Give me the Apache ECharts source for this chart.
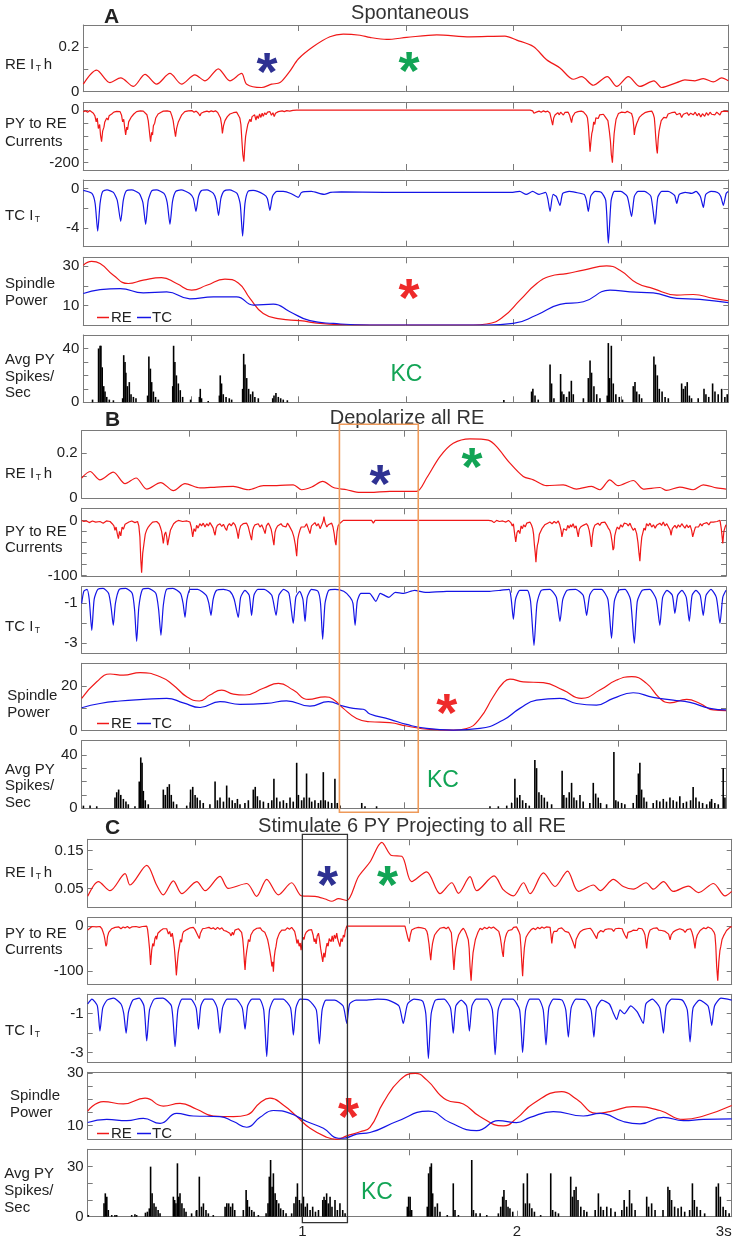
<!DOCTYPE html>
<html><head><meta charset="utf-8">
<script src="https://cdn.jsdelivr.net/npm/echarts@6/dist/echarts.min.js"></script>
<style>html,body{margin:0;padding:0;background:#fff}#c{width:737px;height:1243px}</style>
</head><body><div id="c"></div>
<script>
// ================= DATA (time in s) =================
const xTickVals = [0.5, 1, 1.5, 2, 2.5];
const xLabelVals = [1, 2, 3];

// ---- A: Spontaneous ----
const A_reIth = [[0,0.034],[0.062,0.097],[0.124,0.041],[0.174,0.062],[0.233,0.024],[0.287,0.078],[0.341,0.034],[0.403,0.082],[0.457,0.034],[0.519,0.076],[0.566,0.049],[0.628,0.103],[0.682,0.049],[0.736,0.082],[0.760,0.034],[0.829,0.019],[0.876,0.034],[0.915,0.041],[0.961,0.093],[1.0,0.147],[1.07,0.203],[1.147,0.247],[1.209,0.259],[1.287,0.254],[1.333,0.244],[1.411,0.235],[1.504,0.244],[1.644,0.256],[1.798,0.247],[1.961,0.25],[2.016,0.232],[2.093,0.203],[2.155,0.144],[2.217,0.107],[2.279,0.056],[2.318,0.068],[2.372,0.029],[2.437,0.068],[2.481,0.024],[2.535,0.068],[2.589,0.024],[2.654,0.049],[2.690,0.019],[2.760,0.041],[2.798,0.053],[2.845,0.049],[2.884,0.059],[2.930,0.044],[2.969,0.062],[3.0,0.049]];
const A_pyRe = [[0,-6],[0.01,-3],[0.02,-8],[0.03,-2],[0.039,-4],[0.047,-12],[0.054,-22],[0.06,-45],[0.065,-30],[0.07,-70],[0.076,-55],[0.08,-95],[0.085,-120],[0.09,-80],[0.096,-65],[0.1,-45],[0.105,-50],[0.109,-30],[0.115,-38],[0.12,-22],[0.126,-28],[0.132,-15],[0.138,-20],[0.142,-8],[0.147,-12],[0.155,-5],[0.162,-10],[0.171,-6],[0.178,-20],[0.183,-45],[0.188,-35],[0.193,-70],[0.197,-95],[0.202,-65],[0.206,-75],[0.211,-45],[0.216,-50],[0.222,-28],[0.228,-32],[0.235,-15],[0.242,-18],[0.248,-6],[0.256,-9],[0.265,-3],[0.272,-8],[0.279,-4],[0.288,-10],[0.296,-18],[0.302,-40],[0.306,-70],[0.31,-100],[0.313,-120],[0.318,-85],[0.322,-95],[0.326,-60],[0.332,-50],[0.337,-30],[0.341,-35],[0.348,-15],[0.355,-20],[0.362,-8],[0.372,-4],[0.38,-9],[0.39,-3],[0.398,-10],[0.405,-6],[0.412,-22],[0.418,-40],[0.423,-70],[0.429,-101],[0.434,-70],[0.438,-75],[0.442,-45],[0.448,-35],[0.452,-38],[0.458,-18],[0.465,-14],[0.472,-6],[0.48,-9],[0.488,-3],[0.496,-5],[0.505,-2],[0.515,-8],[0.525,-4],[0.535,-12],[0.543,-22],[0.548,-12],[0.553,-18],[0.558,-8],[0.565,-10],[0.575,-4],[0.585,-7],[0.595,-3],[0.605,-6],[0.615,-3],[0.625,-9],[0.632,-15],[0.638,-30],[0.643,-55],[0.647,-89],[0.652,-60],[0.656,-65],[0.659,-40],[0.665,-45],[0.67,-25],[0.676,-30],[0.682,-15],[0.69,-20],[0.698,-10],[0.706,-14],[0.713,-8],[0.72,-18],[0.728,-30],[0.733,-55],[0.738,-120],[0.742,-170],[0.747,-196],[0.751,-140],[0.755,-100],[0.76,-76],[0.765,-55],[0.77,-60],[0.775,-35],[0.78,-45],[0.785,-25],[0.791,-30],[0.797,-18],[0.803,-38],[0.808,-22],[0.814,-32],[0.82,-15],[0.826,-28],[0.832,-12],[0.837,-24],[0.844,-10],[0.85,-18],[0.857,-8],[0.863,-15],[0.868,-6],[0.875,-20],[0.882,-10],[0.888,-25],[0.894,-12],[0.9,-18],[0.907,-6],[0.915,-10],[0.925,-3],[0.935,-6],[0.946,-2],[0.96,-4],[0.975,-1],[0.992,0],[2.078,0],[2.085,-6],[2.09,-3],[2.096,-12],[2.101,-19],[2.107,-8],[2.113,-12],[2.12,-4],[2.13,-8],[2.14,-3],[2.15,-7],[2.16,-4],[2.17,-11],[2.178,-18],[2.183,-57],[2.188,-30],[2.194,-19],[2.2,-25],[2.207,-10],[2.214,-18],[2.22,-8],[2.227,-14],[2.233,-19],[2.24,-9],[2.248,-15],[2.255,-8],[2.262,-20],[2.267,-35],[2.271,-48],[2.276,-25],[2.282,-18],[2.287,-10],[2.294,-14],[2.3,-6],[2.308,-10],[2.316,-4],[2.326,-7],[2.334,-12],[2.34,-20],[2.345,-30],[2.349,-60],[2.353,-110],[2.357,-158],[2.361,-120],[2.365,-90],[2.369,-76],[2.374,-45],[2.379,-55],[2.384,-30],[2.388,-25],[2.395,-32],[2.402,-18],[2.41,-22],[2.419,-16],[2.426,-24],[2.433,-20],[2.44,-40],[2.447,-82],[2.452,-120],[2.456,-170],[2.461,-200],[2.465,-140],[2.469,-90],[2.473,-63],[2.478,-35],[2.483,-25],[2.489,-13],[2.496,-18],[2.504,-8],[2.512,-6],[2.52,-10],[2.53,-5],[2.54,-9],[2.55,-13],[2.556,-30],[2.56,-60],[2.563,-95],[2.567,-70],[2.571,-75],[2.574,-51],[2.58,-40],[2.586,-28],[2.592,-32],[2.597,-19],[2.604,-22],[2.612,-10],[2.62,-14],[2.628,-6],[2.636,-8],[2.644,-4],[2.651,-15],[2.656,-30],[2.659,-60],[2.663,-110],[2.667,-150],[2.670,-165],[2.674,-110],[2.678,-80],[2.682,-63],[2.688,-40],[2.694,-45],[2.7,-28],[2.705,-25],[2.712,-30],[2.72,-15],[2.728,-20],[2.736,-10],[2.744,-15],[2.752,-8],[2.76,-18],[2.768,-25],[2.775,-12],[2.783,-28],[2.791,-16],[2.8,-22],[2.808,-10],[2.816,-20],[2.825,-12],[2.837,-18],[2.846,-8],[2.855,-22],[2.863,-12],[2.872,-26],[2.88,-14],[2.89,-24],[2.898,-10],[2.907,-20],[2.915,-8],[2.923,-16],[2.93,-10],[2.938,-18],[2.946,-8],[2.954,-14],[2.961,-19],[2.968,-6],[2.976,-12],[2.984,-4],[2.992,-9],[3.0,-6]];
const A_tcIt = [[0,-0.2],[0.04,-0.5],[0.055,-1.5],[0.067,-4.3],[0.078,-1.5],[0.09,-0.3],[0.11,-0.15],[0.14,-0.4],[0.158,-1.2],[0.174,-3.3],[0.186,-1.2],[0.2,-0.25],[0.225,-0.15],[0.26,-0.5],[0.277,-1.4],[0.29,-3.6],[0.302,-1.2],[0.318,-0.25],[0.34,-0.15],[0.375,-0.5],[0.39,-1.4],[0.403,-3.6],[0.415,-1.3],[0.43,-0.3],[0.455,-0.15],[0.495,-0.5],[0.512,-1.0],[0.524,-2.3],[0.536,-0.8],[0.55,-0.2],[0.575,-0.15],[0.605,-0.5],[0.618,-1.2],[0.629,-2.7],[0.64,-1.0],[0.655,-0.25],[0.68,-0.15],[0.715,-0.5],[0.73,-1.6],[0.741,-4.8],[0.752,-1.5],[0.766,-0.3],[0.79,-0.2],[0.84,-0.6],[0.856,-1.0],[0.868,-2.2],[0.88,-0.8],[0.9,-0.3],[0.93,-0.3],[0.965,-0.5],[1.0,-0.9],[1.015,-0.4],[1.06,-0.3],[1.12,-0.6],[1.15,-0.4],[1.2,-0.35],[1.4,-0.4],[1.6,-0.4],[1.8,-0.4],[1.99,-0.4],[2.03,-0.3],[2.06,-0.6],[2.09,-0.3],[2.12,-0.6],[2.15,-0.4],[2.16,-1.0],[2.171,-2.3],[2.185,-0.6],[2.2,-0.8],[2.217,-1.7],[2.23,-0.5],[2.26,-0.3],[2.29,-0.4],[2.33,-0.6],[2.34,-1.2],[2.349,-2.3],[2.36,-0.8],[2.38,-0.3],[2.41,-0.4],[2.43,-1.2],[2.442,-5.5],[2.455,-1.2],[2.47,-0.3],[2.5,-0.3],[2.53,-0.8],[2.55,-2.8],[2.563,-0.8],[2.58,-0.3],[2.61,-0.3],[2.64,-0.8],[2.659,-3.6],[2.672,-0.9],[2.69,-0.3],[2.72,-0.3],[2.75,-0.7],[2.76,-1.5],[2.772,-0.6],[2.8,-0.4],[2.83,-0.5],[2.85,-0.3],[2.87,-0.8],[2.884,-1.9],[2.895,-0.6],[2.92,-0.3],[2.95,-0.4],[2.965,-0.8],[2.977,-1.7],[2.99,-0.5],[3.0,-0.3]];
const A_spRE = [[0,30.5],[0.039,32.5],[0.078,31.4],[0.140,25.4],[0.209,21.2],[0.279,22.9],[0.364,24.2],[0.434,21.2],[0.504,17.8],[0.574,20.3],[0.659,23.4],[0.721,21.5],[0.775,13.6],[0.837,5.9],[0.915,3.1],[1.008,2.2],[1.101,0.8],[1.194,0.2],[1.333,0],[1.814,0],[1.876,0.5],[1.953,4.2],[2.031,12.7],[2.109,21.2],[2.171,24.9],[2.248,26.3],[2.326,28.0],[2.434,30.2],[2.496,28.0],[2.574,21.5],[2.651,18.6],[2.760,15.3],[2.837,15.6],[2.930,13.6],[3.0,12.4]];
const A_spTC = [[0,16.1],[0.078,18.1],[0.171,18.6],[0.279,16.4],[0.388,16.9],[0.496,13.4],[0.605,14.4],[0.713,14.4],[0.791,10.2],[0.884,10.7],[0.961,6.8],[1.054,2.2],[1.163,0.8],[1.333,0],[1.876,0],[2.0,0.8],[2.109,5.1],[2.217,10.5],[2.326,11.9],[2.450,17.8],[2.543,16.9],[2.651,16.4],[2.760,13.6],[2.868,13.1],[3.0,11.4]];
const A_spikes = [[0.043,2],[0.071,40],[0.078,42],[0.082,42],[0.088,26],[0.095,12],[0.101,8],[0.109,4],[0.121,2],[0.140,1.5],[0.183,3],[0.188,35],[0.194,30],[0.198,22],[0.205,12],[0.214,15],[0.222,6],[0.233,4],[0.245,3],[0.299,5],[0.305,34],[0.312,25],[0.318,15],[0.326,8],[0.336,4],[0.349,2],[0.416,12],[0.420,42],[0.426,30],[0.433,20],[0.442,14],[0.451,9],[0.462,4],[0.499,2],[0.540,4],[0.544,10],[0.550,3],[0.581,1],[0.633,5],[0.637,20],[0.643,14],[0.651,6],[0.664,4],[0.679,3],[0.690,2],[0.741,10],[0.746,36],[0.752,28],[0.760,18],[0.769,10],[0.778,6],[0.788,8],[0.798,4],[0.814,3],[0.881,3],[0.887,5],[0.896,7],[0.907,4],[0.918,3],[0.930,2],[0.949,1.5],[1.956,1.7],[2.085,8],[2.091,10],[2.101,5],[2.116,2],[2.171,28],[2.178,14],[2.189,3],[2.220,21],[2.226,8],[2.235,6],[2.248,4],[2.260,8],[2.270,16],[2.279,6],[2.326,3],[2.349,18],[2.357,31],[2.364,22],[2.375,12],[2.388,6],[2.403,3],[2.437,5],[2.442,44],[2.448,18],[2.456,42],[2.465,14],[2.477,6],[2.493,4],[2.508,2],[2.558,12],[2.566,15],[2.574,8],[2.586,6],[2.597,3],[2.654,34],[2.661,28],[2.670,20],[2.679,10],[2.692,8],[2.706,4],[2.721,3],[2.783,14],[2.791,10],[2.800,12],[2.809,15],[2.819,5],[2.829,3],[2.860,3],[2.887,10],[2.896,6],[2.909,4],[2.927,14],[2.938,8],[2.953,6],[2.969,10],[2.984,4],[2.995,6]];

// ---- B: Depolarize all RE ----
const B_reIth = [[0,0.090],[0.039,0.119],[0.085,0.082],[0.147,0.116],[0.202,0.065],[0.253,0.090],[0.303,0.041],[0.368,0.070],[0.427,0.034],[0.481,0.065],[0.551,0.046],[0.628,0.050],[0.706,0.053],[0.776,0.038],[0.846,0.056],[0.908,0.056],[0.985,0.060],[1.024,0.038],[1.071,0.050],[1.122,0.075],[1.172,0.048],[1.234,0.038],[1.296,0.026],[1.342,0.026],[1.435,0.031],[1.559,0.031],[1.606,0.090],[1.668,0.185],[1.730,0.244],[1.808,0.264],[1.893,0.258],[1.932,0.229],[1.994,0.156],[2.056,0.097],[2.103,0.082],[2.165,0.056],[2.242,0.060],[2.304,0.041],[2.374,0.053],[2.413,0.038],[2.459,0.082],[2.498,0.056],[2.568,0.079],[2.615,0.041],[2.692,0.048],[2.723,0.035],[2.785,0.050],[2.847,0.038],[2.894,0.060],[2.956,0.046],[3.0,0.041]];
const B_pyRe = [[0,0],[0.01,-2],[0.023,-1],[0.035,-4],[0.05,-1],[0.065,-3],[0.085,-2],[0.1,-5],[0.115,-1],[0.132,-2],[0.142,-6],[0.15,-10],[0.155,-18],[0.16,-12],[0.166,-25],[0.171,-33],[0.176,-20],[0.182,-28],[0.188,-12],[0.194,-16],[0.202,-7],[0.21,-10],[0.22,-3],[0.233,-1],[0.248,-4],[0.26,-2],[0.266,-10],[0.271,-30],[0.275,-70],[0.279,-95],[0.284,-60],[0.29,-42],[0.296,-25],[0.302,-18],[0.31,-12],[0.318,-8],[0.33,-3],[0.349,-2],[0.36,-6],[0.366,-12],[0.372,-20],[0.376,-30],[0.38,-42],[0.386,-25],[0.391,-21],[0.396,-30],[0.4,-45],[0.403,-48],[0.408,-28],[0.413,-18],[0.419,-15],[0.428,-6],[0.44,-2],[0.45,0],[0.47,-2],[0.49,-1],[0.504,-3],[0.51,-12],[0.517,-30],[0.523,-15],[0.53,-20],[0.535,-9],[0.542,-14],[0.55,-6],[0.558,-10],[0.566,-5],[0.574,-12],[0.582,-6],[0.59,-10],[0.597,-4],[0.605,-9],[0.612,-14],[0.617,-22],[0.621,-27],[0.626,-14],[0.632,-9],[0.638,-12],[0.644,-6],[0.652,-11],[0.66,-7],[0.668,-14],[0.675,-18],[0.68,-10],[0.688,-6],[0.696,-10],[0.706,-4],[0.714,-8],[0.72,-15],[0.725,-24],[0.729,-33],[0.734,-18],[0.74,-10],[0.745,-12],[0.752,-6],[0.76,-9],[0.768,-5],[0.776,-12],[0.782,-22],[0.787,-30],[0.791,-36],[0.796,-18],[0.801,-12],[0.807,-8],[0.815,-11],[0.822,-6],[0.83,-12],[0.838,-8],[0.846,-15],[0.854,-24],[0.86,-10],[0.869,-5],[0.876,-10],[0.882,-16],[0.888,-28],[0.892,-38],[0.895,-45],[0.9,-22],[0.905,-15],[0.912,-10],[0.92,-13],[0.928,-6],[0.935,-10],[0.943,-8],[0.951,-12],[0.958,-5],[0.965,-9],[0.972,-14],[0.98,-20],[0.988,-30],[0.995,-45],[1.001,-65],[1.006,-35],[1.011,-25],[1.016,-18],[1.022,-12],[1.03,-9],[1.038,-12],[1.047,-6],[1.055,-15],[1.063,-24],[1.07,-10],[1.078,-8],[1.086,-4],[1.094,-10],[1.102,-6],[1.11,-15],[1.118,-8],[1.124,-2],[1.128,7],[1.133,-4],[1.141,-12],[1.148,-8],[1.156,-10],[1.164,-5],[1.17,-12],[1.176,-25],[1.18,-38],[1.184,-45],[1.189,-20],[1.194,-10],[1.2,-6],[1.209,-3],[1.218,0],[1.35,0],[1.358,-5],[1.366,0],[1.894,0],[1.901,-3],[1.91,-1],[1.92,-4],[1.932,0],[1.945,-2],[1.96,-1],[1.975,-3],[1.987,0],[1.998,-4],[2.005,-10],[2.01,-6],[2.016,-25],[2.021,-39],[2.027,-22],[2.033,-18],[2.04,-24],[2.046,-10],[2.052,-15],[2.058,-8],[2.065,-12],[2.072,-5],[2.08,-8],[2.087,-3],[2.094,-8],[2.1,-15],[2.104,-25],[2.108,-45],[2.112,-60],[2.115,-76],[2.119,-55],[2.122,-45],[2.126,-39],[2.131,-25],[2.137,-28],[2.143,-15],[2.149,-18],[2.156,-8],[2.163,-10],[2.17,-5],[2.18,-3],[2.19,-6],[2.2,-2],[2.21,-5],[2.219,-1],[2.226,-8],[2.232,-18],[2.236,-30],[2.239,-28],[2.244,-15],[2.25,-12],[2.257,-18],[2.263,-9],[2.27,-14],[2.276,-8],[2.281,-12],[2.288,-6],[2.295,-14],[2.302,-10],[2.308,-22],[2.312,-30],[2.317,-16],[2.323,-12],[2.329,-15],[2.335,-9],[2.342,-12],[2.35,-6],[2.357,-10],[2.363,-18],[2.368,-30],[2.371,-42],[2.374,-48],[2.378,-28],[2.383,-15],[2.389,-9],[2.396,-12],[2.404,-5],[2.412,-9],[2.42,-4],[2.428,-7],[2.436,-3],[2.444,-8],[2.452,-14],[2.459,-18],[2.464,-25],[2.47,-40],[2.474,-54],[2.478,-50],[2.482,-28],[2.488,-18],[2.494,-12],[2.502,-16],[2.51,-8],[2.518,-12],[2.526,-5],[2.537,-6],[2.545,-10],[2.553,-5],[2.56,-12],[2.568,-18],[2.576,-14],[2.584,-24],[2.59,-40],[2.595,-60],[2.599,-74],[2.603,-50],[2.608,-30],[2.612,-24],[2.618,-14],[2.624,-18],[2.63,-6],[2.638,-10],[2.646,-5],[2.654,-12],[2.662,-8],[2.67,-14],[2.677,-9],[2.685,-12],[2.692,-5],[2.7,-9],[2.708,-3],[2.716,-10],[2.724,-6],[2.732,-12],[2.74,-18],[2.744,-27],[2.75,-15],[2.756,-12],[2.762,-9],[2.77,-14],[2.778,-8],[2.786,-12],[2.794,-6],[2.801,-10],[2.809,-14],[2.817,-8],[2.825,-13],[2.833,-9],[2.84,-18],[2.845,-30],[2.848,-33],[2.853,-18],[2.858,-12],[2.864,-9],[2.872,-12],[2.88,-6],[2.888,-10],[2.895,-6],[2.903,-9],[2.911,-4],[2.92,-8],[2.928,-3],[2.935,-6],[2.941,-3],[2.95,-6],[2.958,-2],[2.965,-5],[2.972,0],[2.978,-15],[2.982,-30],[2.985,-42],[2.99,-20],[2.996,-12],[3.0,-8]];
const B_tcIt = [[0,-1.0],[0.01,-0.4],[0.025,-0.3],[0.035,-0.8],[0.047,-2.35],[0.058,-0.8],[0.075,-0.3],[0.1,-0.25],[0.125,-0.5],[0.137,-1.2],[0.147,-2.1],[0.157,-1.0],[0.175,-0.3],[0.205,-0.25],[0.235,-0.5],[0.246,-1.3],[0.256,-2.9],[0.266,-1.2],[0.283,-0.3],[0.31,-0.25],[0.345,-0.5],[0.358,-1.3],[0.369,-2.6],[0.38,-1.1],[0.395,-0.3],[0.425,-0.25],[0.46,-0.5],[0.472,-1.0],[0.481,-1.7],[0.49,-0.8],[0.505,-0.3],[0.54,-0.3],[0.58,-0.6],[0.592,-1.0],[0.602,-1.6],[0.612,-0.8],[0.628,-0.35],[0.66,-0.3],[0.69,-0.4],[0.71,-0.8],[0.729,-1.7],[0.74,-0.7],[0.76,-0.35],[0.78,-0.6],[0.791,-1.6],[0.802,-0.6],[0.82,-0.3],[0.85,-0.3],[0.885,-0.6],[0.905,-1.6],[0.918,-0.6],[0.94,-0.3],[0.965,-0.5],[0.985,-2.0],[0.997,-0.7],[1.015,-0.4],[1.03,-0.8],[1.04,-1.9],[1.05,-0.7],[1.07,-0.3],[1.1,-0.4],[1.112,-1.0],[1.122,-2.8],[1.133,-1.0],[1.15,-0.35],[1.18,-0.3],[1.22,-0.4],[1.25,-0.7],[1.263,-1.0],[1.273,-2.1],[1.283,-0.9],[1.3,-0.5],[1.34,-0.5],[1.37,-0.9],[1.39,-0.5],[1.43,-0.7],[1.46,-0.45],[1.5,-0.5],[1.55,-0.35],[1.6,-0.45],[1.7,-0.4],[1.8,-0.4],[1.9,-0.4],[1.95,-0.35],[1.99,-0.3],[2.0,-0.8],[2.01,-1.8],[2.02,-0.8],[2.04,-0.35],[2.075,-0.35],[2.09,-0.9],[2.106,-3.1],[2.12,-1.0],[2.14,-0.35],[2.18,-0.3],[2.21,-0.7],[2.227,-1.9],[2.24,-0.8],[2.26,-0.35],[2.3,-0.3],[2.335,-0.6],[2.351,-1.6],[2.365,-0.6],[2.385,-0.3],[2.42,-0.3],[2.45,-0.8],[2.467,-2.75],[2.48,-0.9],[2.5,-0.35],[2.53,-0.3],[2.555,-0.8],[2.573,-3.0],[2.587,-0.9],[2.61,-0.35],[2.645,-0.3],[2.675,-0.8],[2.692,-2.1],[2.705,-0.7],[2.725,-0.35],[2.75,-0.6],[2.762,-1.5],[2.775,-0.6],[2.795,-0.35],[2.815,-0.7],[2.829,-1.9],[2.842,-0.6],[2.86,-0.35],[2.88,-0.6],[2.894,-1.6],[2.907,-0.6],[2.93,-0.3],[2.955,-0.7],[2.972,-2.0],[2.985,-0.7],[3.0,-0.35]];
const B_spRE = [[0,14.5],[0.070,21.9],[0.132,25.4],[0.194,24.9],[0.272,26.0],[0.365,24.2],[0.427,20.4],[0.489,15.2],[0.548,13.3],[0.597,16.0],[0.652,18.2],[0.706,16.4],[0.760,16.0],[0.846,19.0],[0.916,21.2],[0.985,18.2],[1.055,14.0],[1.133,15.2],[1.172,14.0],[1.218,10.0],[1.280,5.5],[1.342,4.0],[1.435,3.6],[1.513,2.1],[1.621,0.6],[1.730,0.3],[1.792,1.0],[1.854,5.5],[1.916,15.2],[1.963,21.5],[1.994,23.1],[2.056,21.9],[2.149,21.5],[2.242,18.2],[2.327,14.5],[2.413,18.2],[2.491,22.7],[2.561,24.2],[2.630,21.2],[2.692,14.5],[2.739,12.5],[2.817,14.0],[2.879,12.2],[2.941,9.3],[3.0,9.0]];
const B_spTC = [[0,10.3],[0.085,12.2],[0.178,13.3],[0.287,14.0],[0.396,14.5],[0.473,12.5],[0.551,10.4],[0.644,13.0],[0.737,11.8],[0.861,12.2],[0.954,13.4],[1.063,11.0],[1.148,13.0],[1.218,11.0],[1.265,10.0],[1.311,9.6],[1.342,7.5],[1.435,5.1],[1.513,2.8],[1.606,1.0],[1.730,0.3],[1.854,1.0],[1.963,4.8],[2.040,10.0],[2.118,13.7],[2.227,14.5],[2.304,12.2],[2.397,11.5],[2.475,14.5],[2.568,17.0],[2.661,14.9],[2.754,13.7],[2.832,12.7],[2.925,10.0],[3.0,9.3]];
const B_spikes = [[0.008,2],[0.039,2],[0.070,1.5],[0.155,8],[0.163,12],[0.172,14],[0.182,10],[0.194,7],[0.206,5],[0.217,3],[0.248,1.5],[0.268,20],[0.275,38],[0.281,34],[0.287,13],[0.296,6],[0.310,3],[0.380,14],[0.389,10],[0.399,16],[0.408,18],[0.417,10],[0.427,5],[0.442,3],[0.489,2],[0.507,14],[0.517,16],[0.528,10],[0.538,8],[0.551,6],[0.566,4],[0.597,3],[0.621,20],[0.632,6],[0.644,8],[0.660,5],[0.675,17],[0.687,8],[0.701,6],[0.714,4],[0.725,7],[0.737,3],[0.760,4],[0.776,6],[0.799,14],[0.808,16],[0.818,9],[0.830,6],[0.846,5],[0.869,4],[0.885,6],[0.895,22],[0.908,8],[0.923,5],[0.939,6],[0.954,4],[0.970,8],[0.985,5],[1.001,34],[1.009,10],[1.024,6],[1.035,8],[1.047,26],[1.060,8],[1.071,5],[1.086,6],[1.102,4],[1.113,6],[1.125,27],[1.134,6],[1.148,5],[1.164,4],[1.179,22],[1.190,4],[1.203,2],[1.304,4],[1.319,1.5],[1.373,1.5],[1.901,1.5],[1.940,1.5],[1.979,2],[2.002,4],[2.017,22],[2.028,8],[2.040,10],[2.053,6],[2.068,4],[2.084,2],[2.110,36],[2.118,30],[2.129,12],[2.141,10],[2.154,8],[2.168,5],[2.188,3],[2.237,28],[2.245,10],[2.257,8],[2.270,12],[2.281,19],[2.292,8],[2.304,6],[2.320,10],[2.335,5],[2.366,4],[2.382,19],[2.393,11],[2.405,8],[2.416,4],[2.444,3],[2.478,42],[2.487,6],[2.498,5],[2.514,4],[2.529,3],[2.568,4],[2.584,10],[2.592,26],[2.599,34],[2.607,14],[2.618,8],[2.630,5],[2.661,4],[2.677,6],[2.692,5],[2.708,7],[2.723,5],[2.739,8],[2.754,6],[2.770,5],[2.785,9],[2.801,4],[2.816,5],[2.835,6],[2.847,16],[2.860,8],[2.875,5],[2.891,4],[2.910,3],[2.925,5],[2.933,7],[2.948,4],[2.964,3],[2.987,30],[2.995,8]];

// ---- C: Stimulate 6 PY ----
const C_reIth = [[0,0.029],[0.050,0.068],[0.104,0.044],[0.174,0.089],[0.197,0.059],[0.275,0.111],[0.321,0.059],[0.352,0.033],[0.399,0.070],[0.438,0.036],[0.508,0.068],[0.547,0.044],[0.616,0.082],[0.655,0.050],[0.741,0.063],[0.787,0.029],[0.834,0.074],[0.888,0.033],[0.950,0.065],[0.997,0.030],[1.059,0.029],[1.106,0.022],[1.137,0.016],[1.168,0.023],[1.207,0.018],[1.261,0.081],[1.315,0.120],[1.370,0.172],[1.416,0.137],[1.463,0.135],[1.509,0.068],[1.579,0.094],[1.641,0.036],[1.696,0.065],[1.727,0.037],[1.781,0.081],[1.812,0.044],[1.893,0.083],[1.937,0.046],[1.983,0.030],[2.030,0.065],[2.061,0.036],[2.123,0.091],[2.177,0.055],[2.235,0.096],[2.286,0.042],[2.356,0.059],[2.387,0.044],[2.449,0.074],[2.495,0.055],[2.542,0.048],[2.601,0.065],[2.635,0.048],[2.682,0.068],[2.728,0.042],[2.798,0.056],[2.845,0.039],[2.915,0.063],[2.969,0.030],[3.0,0.042]];
const C_pyRe = [[0,-9],[0.01,-5],[0.02,-1],[0.026,0],[0.04,-2],[0.057,-1],[0.066,-6],[0.072,-14],[0.076,-20],[0.08,-30],[0.085,-45],[0.089,-40],[0.092,-24],[0.098,-14],[0.105,-10],[0.112,-6],[0.12,-8],[0.128,-3],[0.135,-5],[0.145,-2],[0.155,-6],[0.165,-2],[0.175,-4],[0.185,-1],[0.195,-5],[0.205,-2],[0.213,-3],[0.225,-1],[0.24,-3],[0.255,-1],[0.275,0],[0.279,-8],[0.283,-25],[0.288,-50],[0.293,-87],[0.298,-55],[0.303,-39],[0.308,-45],[0.313,-28],[0.318,-22],[0.321,-30],[0.327,-16],[0.333,-20],[0.34,-10],[0.346,-12],[0.352,-6],[0.36,-10],[0.368,-6],[0.376,-18],[0.382,-12],[0.388,-24],[0.394,-16],[0.399,-31],[0.404,-50],[0.409,-80],[0.413,-110],[0.418,-80],[0.422,-60],[0.427,-46],[0.432,-30],[0.437,-36],[0.442,-18],[0.446,-13],[0.454,-16],[0.462,-8],[0.47,-10],[0.478,-4],[0.484,-6],[0.492,-3],[0.5,-8],[0.508,-16],[0.514,-22],[0.52,-28],[0.525,-16],[0.53,-12],[0.535,-6],[0.539,-10],[0.548,-5],[0.556,-8],[0.565,-3],[0.575,-6],[0.585,-4],[0.595,-8],[0.605,-3],[0.615,-7],[0.625,-4],[0.635,-10],[0.642,-6],[0.648,-12],[0.655,-8],[0.662,-16],[0.668,-22],[0.674,-14],[0.679,-20],[0.686,-9],[0.694,-12],[0.702,-6],[0.71,-9],[0.717,-14],[0.722,-28],[0.726,-50],[0.73,-80],[0.733,-98],[0.737,-70],[0.741,-55],[0.744,-46],[0.749,-30],[0.755,-35],[0.76,-20],[0.765,-22],[0.772,-10],[0.78,-13],[0.788,-5],[0.796,-8],[0.804,-4],[0.812,-10],[0.818,-6],[0.825,-14],[0.832,-22],[0.838,-30],[0.842,-39],[0.848,-55],[0.853,-70],[0.858,-90],[0.862,-80],[0.865,-102],[0.869,-70],[0.873,-55],[0.877,-46],[0.882,-30],[0.888,-22],[0.894,-15],[0.899,-12],[0.904,-9],[0.912,-6],[0.92,-9],[0.93,-4],[0.94,-7],[0.95,-3],[0.958,-5],[0.964,-12],[0.97,-25],[0.975,-39],[0.98,-30],[0.985,-45],[0.99,-38],[0.994,-54],[0.998,-40],[1.003,-25],[1.008,-30],[1.012,-20],[1.018,-14],[1.024,-18],[1.03,-9],[1.036,-12],[1.043,-8],[1.05,-20],[1.055,-35],[1.059,-28],[1.064,-40],[1.069,-22],[1.075,-16],[1.08,-30],[1.085,-50],[1.09,-65],[1.095,-80],[1.1,-60],[1.105,-70],[1.11,-50],[1.115,-38],[1.12,-45],[1.125,-28],[1.129,-24],[1.134,-35],[1.139,-22],[1.144,-35],[1.149,-20],[1.155,-28],[1.16,-16],[1.165,-30],[1.17,-38],[1.175,-46],[1.18,-28],[1.186,-35],[1.191,-20],[1.196,-25],[1.2,-10],[1.204,-5],[1.207,0],[1.478,0],[1.482,-8],[1.486,-16],[1.492,-28],[1.498,-35],[1.503,-20],[1.509,-9],[1.516,-12],[1.524,-5],[1.532,-8],[1.54,-3],[1.548,-1],[1.556,-4],[1.564,-2],[1.572,-6],[1.58,-12],[1.584,-20],[1.59,-40],[1.594,-60],[1.598,-76],[1.602,-55],[1.606,-40],[1.61,-31],[1.616,-20],[1.622,-24],[1.628,-12],[1.634,-14],[1.641,-5],[1.65,-8],[1.66,-3],[1.67,-6],[1.68,-2],[1.688,-4],[1.694,-15],[1.698,-40],[1.702,-70],[1.706,-98],[1.71,-70],[1.714,-50],[1.718,-40],[1.722,-31],[1.728,-20],[1.734,-22],[1.74,-10],[1.745,-12],[1.75,-5],[1.757,-10],[1.764,-18],[1.769,-25],[1.773,-31],[1.777,-50],[1.781,-90],[1.786,-122],[1.79,-90],[1.795,-60],[1.8,-46],[1.806,-30],[1.812,-22],[1.818,-14],[1.823,-10],[1.828,-5],[1.838,-8],[1.848,-3],[1.86,-6],[1.87,-2],[1.88,-5],[1.89,-2],[1.9,-6],[1.905,-4],[1.915,-12],[1.922,-25],[1.928,-45],[1.932,-60],[1.936,-69],[1.94,-40],[1.946,-25],[1.952,-16],[1.96,-10],[1.968,-6],[1.976,-8],[1.984,-3],[1.992,-5],[1.998,-2],[2.004,-8],[2.01,-14],[2.014,-20],[2.018,-45],[2.022,-80],[2.026,-112],[2.03,-75],[2.034,-50],[2.037,-39],[2.042,-25],[2.048,-28],[2.054,-15],[2.06,-18],[2.066,-8],[2.072,-10],[2.076,-5],[2.086,-8],[2.096,-3],[2.106,-6],[2.116,-2],[2.126,-5],[2.136,-2],[2.145,-4],[2.154,-3],[2.158,-20],[2.162,-39],[2.167,-18],[2.172,-12],[2.177,-9],[2.185,-12],[2.193,-6],[2.2,-9],[2.208,-4],[2.216,-8],[2.224,-12],[2.232,-8],[2.24,-14],[2.247,-20],[2.254,-28],[2.26,-35],[2.265,-42],[2.27,-50],[2.275,-30],[2.28,-25],[2.287,-18],[2.294,-13],[2.302,-16],[2.31,-8],[2.318,-11],[2.326,-6],[2.334,-9],[2.342,-5],[2.35,-10],[2.357,-16],[2.364,-22],[2.371,-28],[2.377,-16],[2.384,-20],[2.39,-10],[2.396,-14],[2.402,-13],[2.41,-8],[2.418,-12],[2.426,-6],[2.434,-10],[2.442,-7],[2.45,-12],[2.458,-6],[2.466,-10],[2.474,-5],[2.482,-9],[2.49,-6],[2.495,-13],[2.502,-20],[2.507,-16],[2.511,-28],[2.517,-14],[2.524,-10],[2.532,-12],[2.542,-9],[2.55,-6],[2.558,-10],[2.566,-5],[2.574,-9],[2.582,-6],[2.59,-12],[2.596,-20],[2.6,-35],[2.604,-50],[2.608,-30],[2.614,-16],[2.62,-9],[2.628,-12],[2.636,-5],[2.644,-8],[2.652,-4],[2.66,-9],[2.666,-5],[2.674,-10],[2.682,-6],[2.69,-12],[2.698,-8],[2.706,-18],[2.713,-31],[2.718,-20],[2.723,-24],[2.728,-13],[2.735,-16],[2.742,-9],[2.75,-12],[2.758,-6],[2.766,-10],[2.775,-9],[2.783,-14],[2.792,-8],[2.8,-12],[2.808,-6],[2.815,-14],[2.821,-25],[2.826,-40],[2.829,-50],[2.834,-30],[2.84,-20],[2.845,-16],[2.853,-10],[2.861,-8],[2.87,-4],[2.88,-6],[2.89,-2],[2.899,-1],[2.906,-6],[2.912,-10],[2.918,-14],[2.922,-20],[2.926,-45],[2.93,-90],[2.935,-122],[2.94,-80],[2.945,-55],[2.949,-46],[2.955,-30],[2.962,-22],[2.969,-16],[2.976,-10],[2.984,-6],[2.992,-3],[3.0,-1]];
const C_tcIt = [[0,-0.5],[0.02,-0.25],[0.045,-0.6],[0.057,-1.9],[0.07,-0.7],[0.09,-0.3],[0.12,-0.2],[0.155,-0.5],[0.168,-1.0],[0.179,-2.0],[0.19,-0.9],[0.21,-0.3],[0.24,-0.2],[0.262,-0.6],[0.275,-2.4],[0.288,-0.8],[0.31,-0.25],[0.35,-0.2],[0.39,-0.6],[0.407,-2.7],[0.42,-0.8],[0.44,-0.25],[0.48,-0.25],[0.505,-0.7],[0.516,-1.8],[0.527,-0.6],[0.545,-0.25],[0.58,-0.25],[0.603,-0.7],[0.616,-2.0],[0.628,-0.7],[0.65,-0.25],[0.69,-0.25],[0.72,-0.7],[0.733,-1.8],[0.745,-0.6],[0.765,-0.25],[0.8,-0.25],[0.82,-0.8],[0.834,-3.2],[0.847,-0.8],[0.87,-0.25],[0.91,-0.25],[0.945,-0.7],[0.958,-2.1],[0.97,-0.7],[0.99,-0.25],[1.03,-0.3],[1.065,-0.8],[1.079,-2.55],[1.092,-0.8],[1.11,-0.3],[1.15,-0.3],[1.19,-0.6],[1.207,-1.5],[1.22,-0.5],[1.25,-0.3],[1.3,-0.3],[1.35,-0.25],[1.4,-0.3],[1.45,-0.6],[1.47,-1.5],[1.49,-0.5],[1.52,-0.25],[1.56,-0.35],[1.575,-1.0],[1.587,-3.3],[1.6,-1.0],[1.62,-0.3],[1.66,-0.25],[1.69,-0.7],[1.703,-2.0],[1.715,-0.6],[1.74,-0.3],[1.765,-0.6],[1.778,-1.9],[1.79,-0.6],[1.81,-0.25],[1.86,-0.25],[1.885,-0.8],[1.898,-3.1],[1.912,-0.8],[1.935,-0.25],[1.98,-0.25],[2.012,-0.8],[2.026,-3.0],[2.04,-0.8],[2.06,-0.25],[2.1,-0.25],[2.122,-0.8],[2.135,-2.6],[2.148,-0.7],[2.17,-0.25],[2.21,-0.3],[2.227,-0.8],[2.239,-2.2],[2.252,-0.7],[2.275,-0.25],[2.32,-0.3],[2.345,-0.8],[2.358,-2.2],[2.37,-0.7],[2.395,-0.3],[2.43,-0.5],[2.45,-1.0],[2.464,-1.3],[2.48,-0.8],[2.5,-1.0],[2.53,-0.6],[2.56,-0.9],[2.588,-1.5],[2.6,-0.5],[2.63,-0.25],[2.665,-0.7],[2.682,-2.0],[2.695,-0.6],[2.72,-0.25],[2.77,-0.3],[2.793,-0.8],[2.806,-2.45],[2.82,-0.7],[2.85,-0.3],[2.89,-0.6],[2.907,-1.6],[2.92,-0.6],[2.95,-0.2],[3.0,-0.3]];
const C_spRE = [[0,15.6],[0.073,19.2],[0.166,18.3],[0.267,20.5],[0.352,17.5],[0.430,18.5],[0.508,16.3],[0.585,13.7],[0.679,13.5],[0.741,14.1],[0.803,18.8],[0.849,20.5],[0.911,17.9],[0.974,13.5],[1.036,9.0],[1.113,5.6],[1.160,4.8],[1.207,6.1],[1.269,7.7],[1.315,9.4],[1.377,18.8],[1.455,27.5],[1.525,30.0],[1.579,27.5],[1.672,19.8],[1.750,18.3],[1.827,13.5],[1.936,9.9],[1.998,12.8],[2.076,18.5],[2.208,23.0],[2.278,20.1],[2.371,14.7],[2.433,15.4],[2.542,17.3],[2.666,15.8],[2.775,12.4],[2.868,13.7],[3.0,17.7]];
const C_spTC = [[0,11.2],[0.089,12.4],[0.182,11.9],[0.259,12.8],[0.337,10.9],[0.415,14.7],[0.492,13.7],[0.616,13.5],[0.679,11.6],[0.741,9.4],[0.803,13.2],[0.865,15.8],[0.943,14.7],[1.020,11.6],[1.098,9.0],[1.168,5.2],[1.191,5.2],[1.253,6.8],[1.315,7.4],[1.439,11.6],[1.587,15.6],[1.688,11.2],[1.812,8.1],[1.913,11.9],[1.998,11.2],[2.061,13.2],[2.169,15.4],[2.309,13.7],[2.387,14.7],[2.495,11.6],[2.573,10.7],[2.682,13.2],[2.775,11.9],[2.868,12.4],[3.0,12.6]];
const C_spikes = [[0.003,1],[0.076,8],[0.082,14],[0.089,12],[0.096,4],[0.112,1],[0.127,1],[0.135,1],[0.205,1],[0.220,1.5],[0.228,1],[0.269,2.4],[0.278,3],[0.287,5],[0.293,30],[0.300,14],[0.309,8],[0.318,6],[0.328,4],[0.337,2],[0.399,12],[0.405,10],[0.411,8],[0.418,32],[0.424,12],[0.430,14],[0.439,8],[0.449,5],[0.458,3],[0.484,2],[0.508,4],[0.520,24],[0.530,6],[0.539,8],[0.551,4],[0.562,2],[0.585,1],[0.640,6],[0.648,8],[0.657,8],[0.666,6],[0.675,8],[0.685,4],[0.725,4],[0.738,16],[0.744,10],[0.753,6],[0.764,4],[0.775,3],[0.795,1],[0.831,2],[0.840,8],[0.846,24],[0.852,34],[0.859,18],[0.865,26],[0.873,14],[0.880,10],[0.890,8],[0.899,5],[0.911,4],[0.924,2],[0.950,2],[0.961,8],[0.970,12],[0.977,20],[0.986,10],[0.995,8],[1.005,12],[1.014,6],[1.023,8],[1.036,4],[1.048,6],[1.061,3],[1.075,4],[1.095,10],[1.101,12],[1.107,10],[1.113,14],[1.121,8],[1.129,12],[1.138,6],[1.152,10],[1.163,4],[1.175,8],[1.188,4],[1.199,2],[1.489,6],[1.495,12],[1.502,12],[1.509,4],[1.582,6],[1.588,26],[1.595,30],[1.601,32],[1.607,14],[1.618,6],[1.629,8],[1.641,3],[1.675,1],[1.703,20],[1.711,4],[1.727,1],[1.789,34],[1.797,4],[1.809,2],[1.828,2],[1.859,1],[1.913,2],[1.924,6],[1.933,12],[1.939,16],[1.949,10],[1.958,6],[1.967,5],[1.980,3],[2.030,20],[2.039,8],[2.048,26],[2.058,8],[2.069,5],[2.081,3],[2.110,1],[2.157,26],[2.166,4],[2.179,3],[2.193,2],[2.250,24],[2.258,12],[2.266,16],[2.275,18],[2.284,10],[2.297,6],[2.312,4],[2.325,3],[2.364,4],[2.379,14],[2.390,6],[2.402,4],[2.418,6],[2.437,5],[2.457,3],[2.488,4],[2.499,10],[2.511,6],[2.524,16],[2.534,8],[2.550,4],[2.604,12],[2.613,6],[2.627,8],[2.643,4],[2.680,4],[2.703,18],[2.711,16],[2.720,10],[2.734,6],[2.750,5],[2.765,6],[2.781,3],[2.804,4],[2.817,20],[2.826,10],[2.838,6],[2.854,4],[2.874,2],[2.928,18],[2.938,20],[2.947,12],[2.960,6],[2.972,4],[2.988,2]];

// y-axis ticks / labels per panel
const yTicks = {
  A1:[0,0.1,0.2], A2:[-200,-150,-100,-50,0], A3:[-4,-2,0], A4:[10,20,30], A5:[0,10,20,30,40],
  B1:[0,0.1,0.2], B2:[-100,-80,-60,-40,-20,0], B3:[-3,-2,-1], B4:[0,10,20], B5:[0,10,20,30,40],
  C1:[0.05,0.1,0.15], C2:[-100,-50,0], C3:[-3,-2,-1], C4:[10,15,20,25,30], C5:[0,10,20,30]
};
const yLabels = {
  A1:[0,0.2], A2:[-200,0], A3:[-4,0], A4:[10,30], A5:[0,40],
  B1:[0,0.2], B2:[-100,0], B3:[-3,-1], B4:[0,20], B5:[0,40],
  C1:[0.05,0.15], C2:[-100,0], C3:[-3,-1], C4:[10,30], C5:[0,30]
};

// ================= LAYOUT =================
const FONT = '"Liberation Sans", Arial, Helvetica, sans-serif';
const FRAME = '#7a7a7a';
const RED = '#f01818', BLUE = '#1414e6';
const sections = [
  {left:83.3, width:645.0},
  {left:81.7, width:644.3},
  {left:87.7, width:644.0}
];
const panels = [
  {key:'A1', sec:0, top:25,    bot:91.7,  min:0,     max:0.3,  lines:[[A_reIth,RED,0.3]]},
  {key:'A2', sec:0, top:102.7, bot:170,   min:-228,  max:28,   lines:[[A_pyRe,RED,0]]},
  {key:'A3', sec:0, top:180,   bot:246.7, min:-5.85, max:0.85, lines:[[A_tcIt,BLUE,0.2]]},
  {key:'A4', sec:0, top:257.3, bot:325,   min:0,     max:34.6, lines:[[A_spRE,RED,0.5],[A_spTC,BLUE,0.5]]},
  {key:'A5', sec:0, top:335,   bot:402.3, min:0,     max:50,   bars:A_spikes},
  {key:'B1', sec:1, top:430.7, bot:498.3, min:0,     max:0.3,  lines:[[B_reIth,RED,0.3]]},
  {key:'B2', sec:1, top:508.3, bot:576,   min:-101,  max:22,   lines:[[B_pyRe,RED,0]]},
  {key:'B3', sec:1, top:586.7, bot:653.3, min:-3.5,  max:-0.17,lines:[[B_tcIt,BLUE,0.2]]},
  {key:'B4', sec:1, top:663.3, bot:730.7, min:0,     max:30.2, lines:[[B_spRE,RED,0.5],[B_spTC,BLUE,0.5]]},
  {key:'B5', sec:1, top:740.7, bot:808.3, min:0,     max:50.5, bars:B_spikes},
  {key:'C1', sec:2, top:839.3, bot:907.3, min:0,     max:0.18, lines:[[C_reIth,RED,0.3]]},
  {key:'C2', sec:2, top:917.7, bot:984.3, min:-130,  max:18.6, lines:[[C_pyRe,RED,0]]},
  {key:'C3', sec:2, top:994.3, bot:1062.3,min:-3.5,  max:0,    lines:[[C_tcIt,BLUE,0.2]]},
  {key:'C4', sec:2, top:1072.3,bot:1139.3,min:4.8,   max:30.4, lines:[[C_spRE,RED,0.5],[C_spTC,BLUE,0.5]]},
  {key:'C5', sec:2, top:1149.3,bot:1216.7,min:0,     max:40.4, bars:C_spikes}
];

const grid = [], xAxis = [], yAxis = [], series = [];
const axisLineS = {show:true, onZero:false, lineStyle:{color:FRAME, width:1}};
panels.forEach((p, i) => {
  const s = sections[p.sec];
  grid.push({left:s.left, width:s.width, top:p.top, height:p.bot - p.top, show:false});
  const last = i === panels.length - 1;
  xAxis.push({gridIndex:i, type:'value', min:0, max:3, position:'bottom',
    axisLine:axisLineS, splitLine:{show:false},
    axisTick:{show:true, inside:true, length:6, lineStyle:{color:FRAME}, customValues:xTickVals},
    axisLabel: last ? {show:true, customValues:xLabelVals, margin:8, color:'#222', fontSize:15, fontFamily:FONT,
        alignMaxLabel:'right', formatter: v => v === 3 ? '3s' : String(v)} : {show:false}
  });
  xAxis.push({gridIndex:i, type:'value', min:0, max:3, position:'top',
    axisLine:axisLineS, splitLine:{show:false},
    axisTick:{show:true, inside:true, length:6, lineStyle:{color:FRAME}, customValues:xTickVals},
    axisLabel:{show:false}
  });
  yAxis.push({gridIndex:i, type:'value', min:p.min, max:p.max, position:'left',
    axisLine:axisLineS, splitLine:{show:false},
    axisTick:{show:true, inside:true, length:5, lineStyle:{color:FRAME}, customValues:yTicks[p.key]},
    axisLabel:{show:true, customValues:yLabels[p.key], margin:4, color:'#222', fontSize:15, fontFamily:FONT,
      showMinLabel:true, showMaxLabel:true}
  });
  yAxis.push({gridIndex:i, type:'value', min:p.min, max:p.max, position:'right',
    axisLine:axisLineS, splitLine:{show:false},
    axisTick:{show:true, inside:true, length:5, lineStyle:{color:FRAME}, customValues:yTicks[p.key]},
    axisLabel:{show:false}
  });
  if (p.lines) {
    p.lines.forEach(([d, c, sm]) => series.push({type:'line', xAxisIndex:2*i, yAxisIndex:2*i, data:d,
      showSymbol:false, smooth:sm, lineStyle:{color:c, width:1.2}, itemStyle:{color:c}, silent:true, clip:true}));
  }
  if (p.bars) {
    series.push({type:'bar', xAxisIndex:2*i, yAxisIndex:2*i, data:p.bars, barWidth:1.6,
      itemStyle:{color:'#000'}, silent:true});
  }
});

const chart = echarts.init(document.getElementById('c'));
chart.setOption({animation:false, grid, xAxis, yAxis, series});

// ================= ANNOTATIONS =================
const G = [];
function txt(x, y, text, size, opts) {
  opts = opts || {};
  G.push({type:'text', x, y, z:50, style:{text, fontSize:size, fontFamily:FONT, fontWeight:opts.bold ? 'bold' : 'normal',
    fill:opts.color || '#222', align:opts.align || 'left', verticalAlign:'middle'}});
}
function itLabel(x, y, pre, post) {
  txt(x, y, pre, 15);
  const preW = pre === 'RE I' ? 29.2 : 28.3;
  txt(x + preW + 1.5, y + 4, 'T', 8.5);
  if (post) txt(x + preW + 9.5, y, post, 15);
}
function legend(x, y) {
  G.push({type:'line', z:50, shape:{x1:x, y1:y, x2:x+12, y2:y}, style:{stroke:RED, lineWidth:1.5}});
  txt(x + 14, y, 'RE', 15);
  G.push({type:'line', z:50, shape:{x1:x+40, y1:y, x2:x+54, y2:y}, style:{stroke:BLUE, lineWidth:1.5}});
  txt(x + 55, y, 'TC', 15);
}
function star(x, y, color) {
  txt(x, y, '*', 54, {bold:true, color, align:'center'});
}

// section titles
txt(111.5, 17, 'A', 21, {bold:true, align:'center'});
txt(410, 13, 'Spontaneous', 20, {align:'center', color:'#333'});
txt(112.5, 420, 'B', 21, {bold:true, align:'center'});
txt(407, 418, 'Depolarize all RE', 20, {align:'center', color:'#333'});
txt(112.5, 828, 'C', 21, {bold:true, align:'center'});
txt(412, 826, 'Stimulate 6 PY Projecting to all RE', 20, {align:'center', color:'#333'});

// left labels
itLabel(5, 65, 'RE I', 'h');
txt(5, 123.5, 'PY to RE', 15); txt(5, 141.5, 'Currents', 15);
itLabel(5, 216, 'TC I');
txt(5, 284, 'Spindle', 15); txt(5, 300.5, 'Power', 15);
txt(5, 360, 'Avg PY', 15); txt(5, 376.5, 'Spikes/', 15); txt(5, 393, 'Sec', 15);

itLabel(5, 473.5, 'RE I', 'h');
txt(5, 531.5, 'PY to RE', 15); txt(5, 547.5, 'Currents', 15);
itLabel(5, 626.5, 'TC I');
txt(7.3, 696, 'Spindle', 15); txt(7.3, 713, 'Power', 15);
txt(5, 769.5, 'Avg PY', 15); txt(5, 785.5, 'Spikes/', 15); txt(5, 802.5, 'Sec', 15);

itLabel(5, 873, 'RE I', 'h');
txt(5, 933.5, 'PY to RE', 15); txt(5, 949.5, 'Currents', 15);
itLabel(5, 1031, 'TC I');
txt(10, 1096, 'Spindle', 15); txt(10, 1112.5, 'Power', 15);
txt(4.3, 1174, 'Avg PY', 15); txt(4.3, 1191, 'Spikes/', 15); txt(4.3, 1207.5, 'Sec', 15);

// legends
legend(97, 317.5);
legend(97, 723.5);
legend(97, 1133.5);

// asterisks and KC
const DKBLUE = '#2e3192', GREEN = '#12a455', ARED = '#ee2a2a';
star(267, 75, DKBLUE); star(409, 74, GREEN); star(409, 301, ARED);
txt(406.5, 375, 'KC', 23, {color:GREEN, align:'center'});
star(380, 487, DKBLUE); star(472, 470, GREEN); star(446.7, 716.5, ARED);
txt(443, 781, 'KC', 23, {color:GREEN, align:'center'});
star(327.5, 888, DKBLUE); star(387.5, 888, GREEN); star(348.5, 1120.5, ARED);
txt(377, 1193, 'KC', 23, {color:GREEN, align:'center'});

// highlight rectangles (time spans in the panels' own axes)
const bx1 = chart.convertToPixel({xAxisIndex:10}, 1.2), bx2 = chart.convertToPixel({xAxisIndex:10}, 1.567);
G.push({type:'rect', z:60, shape:{x:bx1, y:424.3, width:bx2-bx1, height:812.3-424.3}, style:{fill:'none', stroke:'#ee9a5a', lineWidth:1.6}});
const cx1 = chart.convertToPixel({xAxisIndex:20}, 1.0), cx2 = chart.convertToPixel({xAxisIndex:20}, 1.21);
G.push({type:'rect', z:60, shape:{x:cx1, y:834.3, width:cx2-cx1, height:1222.7-834.3}, style:{fill:'none', stroke:'#333', lineWidth:1.3}});

chart.setOption({graphic:G});
</script></body></html>
